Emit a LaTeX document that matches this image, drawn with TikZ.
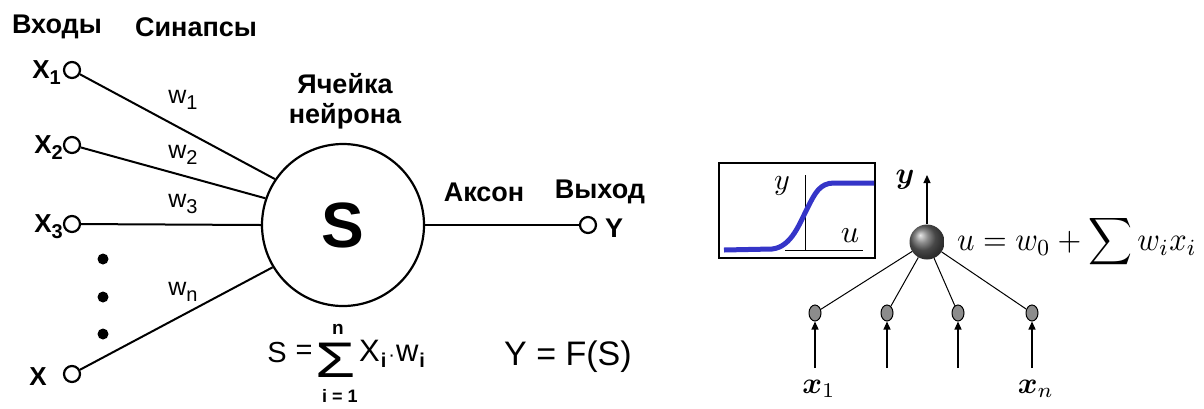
\documentclass[tikz,border=0pt]{standalone}
\usepackage{amsmath}
\usepackage{graphicx}
\usepackage{fontspec}
\setsansfont{Liberation Sans}
\usetikzlibrary{arrows.meta,shapes.geometric}
\definecolor{sigblue}{HTML}{3535C8}
\definecolor{portgray}{HTML}{8C8C8C}
\newcommand{\lowsub}[1]{\raisebox{-6pt}{\fontsize{20}{20}\selectfont #1}}
\newcommand{\scmath}[2]{\scalebox{#1}{$#2$}}
\begin{document}
\begin{tikzpicture}[x=1pt,y=-1pt,
  lab/.style={font=\fontsize{27}{30}\selectfont\bfseries\sffamily, inner sep=0pt},
  xlab/.style={font=\fontsize{26}{28}\selectfont\bfseries\sffamily, inner sep=0pt, anchor=east},
  wl/.style={font=\fontsize{25}{26}\selectfont\sffamily, inner sep=0pt},
  fl/.style={font=\fontsize{29}{30}\selectfont\sffamily, inner sep=0pt},
  port/.style={circle, draw, line width=2.2pt, minimum size=16pt, inner sep=0pt},
  wire/.style={line width=2pt},
  thinwire/.style={line width=1pt},
  inport/.style={ellipse, draw, fill=portgray, line width=1pt, minimum width=12pt, minimum height=16pt, inner sep=0pt},
  arr/.style={line width=1.2pt, -{Triangle[length=8pt,width=7pt]}},
  mth/.style={inner sep=0pt}
]
\useasboundingbox (0,0) rectangle (1204,408);

% ---------- left: biological-style neuron ----------
\node[lab] (inputs) at (57,27) {Входы};
\node[lab] (syn) at (196,27) {Синапсы};

\node[port] (p1) at (72,70) {};
\node[port] (p2) at (72,145) {};
\node[port] (p3) at (72,224) {};
\node[port] (pn) at (72,374) {};

\node[xlab] (l1) at (61,73) {X\lowsub{1}};
\node[xlab] (l2) at (63,148) {X\lowsub{2}};
\node[xlab] (l3) at (63,227) {X\lowsub{3}};
\node[xlab] (ln) at (47,377) {X};

\fill (103,259) circle (5.5);
\fill (103,297) circle (5.5);
\fill (103,334) circle (5.5);

\node[circle, draw, line width=2.2pt, minimum size=162pt, inner sep=0pt,
      font=\fontsize{64}{64}\selectfont\bfseries\sffamily] (cell) at (343,225) {S};

\draw[wire] (p1) -- (cell.146);
\draw[wire] (p2) -- (cell.161);
\draw[wire] (p3) -- (cell.180);
\draw[wire] (pn) -- (cell.211);

\node[wl] (w1) at (183,100) {w\lowsub{1}};
\node[wl] (w2) at (183,155) {w\lowsub{2}};
\node[wl] (w3) at (183,204) {w\lowsub{3}};
\node[wl] (wn) at (183,292) {w\lowsub{n}};

\node[lab, align=center] (celllab) at (345,101) {Ячейка\\нейрона};

\node[port] (out) at (588,225) {};
\draw[wire] (cell) -- (out);
\node[lab] (ylab) at (614,228) {Y};
\node[lab] (axon) at (484,192) {Аксон};
\node[lab] (vyh) at (600,192) {Выход};

% formula S = sum X_i w_i
\node[fl] (fS) at (277,353) {S};
\node[fl] (feq) at (304,352) {=};
\node[inner sep=0pt, font=\fontsize{50}{50}\selectfont\sffamily] (fsum) at (336,360) {\scalebox{1.3}[1]{Σ}};
\node[inner sep=0pt, font=\fontsize{19}{19}\selectfont\bfseries\sffamily] (fn) at (338,329) {n};
\node[inner sep=0pt, font=\fontsize{18}{18}\selectfont\bfseries\sffamily] (fi1) at (340,396) {i = 1};
\node[inner sep=0pt, anchor=west, font=\fontsize{31}{31}\selectfont\sffamily] (fX) at (359,354) {X\hspace{1pt}\lowsub{\bfseries i}\hspace{2pt}{\fontsize{20}{20}\selectfont·}\hspace{1pt}w\hspace{1pt}\lowsub{\bfseries i}};

\node[inner sep=0pt, font=\fontsize{34}{34}\selectfont\sffamily] (fY) at (568,357) {Y = F(S)};

% ---------- right: formal neuron ----------
\draw[line width=1.6pt] (719,163) rectangle (875,258);
\draw[line width=1pt] (805,175) -- (805,250);
\draw[line width=1pt] (785,250) -- (863,250);
\draw[sigblue, line width=5pt] (724,250) -- (772,249)
   .. controls (792,247) and (800,222) .. (808,207)
   .. controls (815,193) and (820,183) .. (834,183) -- (874,183);
\node[mth] (gy) at (782,186) {\scmath{3}{y}};
\node[mth] (gu) at (850,236) {\scmath{3.2}{u}};

\node[circle, ball color=black!60, minimum size=35pt, inner sep=0pt] (soma) at (927,242) {};
\coordinate (ytop) at (927,175);
\draw[arr] (soma) -- (ytop);
\node[mth] (yout) at (905,180) {\scmath{3}{\boldsymbol{y}}};

\node[mth, anchor=west] (uform) at (957,242) {\scalebox{3.05}[3.3]{$u = w_0 + \displaystyle\sum w_i x_i$}};

\node[inport] (i1) at (815,313) {};
\node[inport] (i2) at (887,313) {};
\node[inport] (i3) at (958,313) {};
\node[inport] (i4) at (1032,313) {};

\draw[thinwire] (soma) -- (i1);
\draw[thinwire] (soma) -- (i2);
\draw[thinwire] (soma) -- (i3);
\draw[thinwire] (soma) -- (i4);

\coordinate (b1) at (815,368);
\coordinate (b2) at (887,368);
\coordinate (b3) at (958,368);
\coordinate (b4) at (1032,368);
\draw[arr] (b1) -- (i1);
\draw[arr] (b2) -- (i2);
\draw[arr] (b3) -- (i3);
\draw[arr] (b4) -- (i4);

\node[mth] (x1) at (819,389) {\scmath{3}{\boldsymbol{x}_1}};
\node[mth] (xn) at (1036,389) {\scmath{3}{\boldsymbol{x}_n}};
\end{tikzpicture}
\end{document}
